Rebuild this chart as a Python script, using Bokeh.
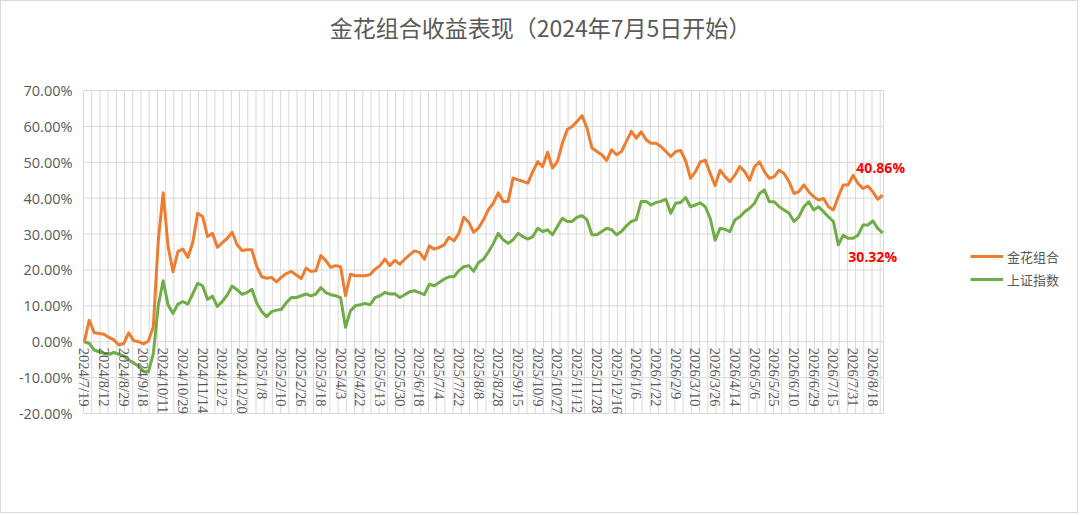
import math
from bokeh.plotting import figure
from bokeh.models import (ColumnDataSource, FixedTicker, PrintfTickFormatter, Label,
                          LabelSet, Legend, LegendItem, Range1d)
from bokeh.embed import file_html
from bokeh.resources import INLINE

# ---------------- data ----------------
title_text = "金花组合收益表现（2024年7月5日开始）"
series_names = ["金花组合", "上证指数"]

tick_labels = [
    "2024/7/19", "2024/8/12", "2024/8/29", "2024/9/18", "2024/10/11", "2024/10/29",
    "2024/11/14", "2024/12/2", "2024/12/20", "2025/1/8", "2025/2/10", "2025/2/26",
    "2025/3/18", "2025/4/3", "2025/4/22", "2025/5/13", "2025/5/30", "2025/6/18",
    "2025/7/4", "2025/7/22", "2025/8/8", "2025/8/28", "2025/9/15", "2025/10/9",
    "2025/10/27", "2025/11/12", "2025/11/28", "2025/12/16", "2026/1/6", "2026/1/22",
    "2026/2/9", "2026/3/10", "2026/3/26", "2026/4/14", "2026/5/6", "2026/5/25",
    "2026/6/10", "2026/6/29", "2026/7/15", "2026/7/31", "2026/8/18",
]

# cumulative return (%) sampled every 3rd trading day
jinhua = [
    0.0, 6.0, 2.5, 2.3, 2.1, 1.2, 0.5, -0.9, -0.5, 2.5,
    0.3, 0.0, -0.6, 0.2, 4.2, 28.0, 41.5, 26.5, 19.5, 25.2,
    25.8, 23.5, 27.6, 35.8, 34.9, 29.3, 30.2, 26.3, 27.6, 28.8,
    30.5, 27.0, 25.4, 25.6, 25.6, 20.9, 18.1, 17.7, 17.9, 16.7,
    18.0, 19.0, 19.6, 18.6, 17.6, 20.5, 19.6, 19.8, 24.0, 22.6,
    20.7, 21.2, 20.9, 12.8, 18.8, 18.4, 18.4, 18.4, 18.7, 20.2,
    21.2, 23.0, 21.2, 22.7, 21.6, 23.0, 24.2, 25.3, 24.9, 23.0,
    26.7, 25.8, 26.3, 27.0, 29.1, 28.1, 30.2, 34.7, 33.3, 30.5,
    31.7, 34.0, 36.8, 38.6, 41.5, 39.1, 39.1, 45.6, 45.1, 44.7,
    44.2, 47.4, 50.2, 48.8, 52.8, 48.4, 50.2, 55.3, 59.1, 60.0,
    61.4, 63.0, 59.5, 54.0, 53.0, 52.1, 50.5, 53.5, 52.1, 53.0,
    55.8, 58.6, 56.7, 58.5, 56.3, 55.3, 55.3, 54.4, 53.0, 51.6,
    53.0, 53.3, 50.5, 45.5, 47.4, 50.1, 50.6, 46.9, 43.5, 47.8,
    46.0, 44.6, 46.4, 48.8, 47.4, 45.0, 48.8, 50.1, 47.4, 45.5,
    46.0, 47.8, 46.9, 44.6, 41.3, 41.8, 43.7, 41.8, 40.4, 39.5,
    39.9, 37.6, 36.7, 40.4, 43.7, 43.7, 46.4, 44.1, 42.7, 43.4,
    41.8, 39.7, 40.86,
]

shangzheng = [
    0.0, -0.5, -2.3, -2.8, -3.2, -3.5, -3.0, -3.5, -4.0, -5.1,
    -5.9, -6.8, -8.2, -8.4, -3.3, 10.0, 17.0, 10.2, 7.9, 10.5,
    11.2, 10.5, 13.3, 16.3, 15.6, 11.8, 12.7, 9.8, 11.2, 13.0,
    15.5, 14.5, 13.2, 13.7, 14.6, 10.7, 8.4, 7.0, 8.4, 8.8,
    9.0, 10.9, 12.3, 12.3, 12.8, 13.3, 12.8, 13.3, 15.1, 13.7,
    13.1, 12.8, 12.3, 4.0, 8.6, 10.0, 10.3, 10.7, 10.3, 12.3,
    12.8, 13.7, 13.3, 13.4, 12.3, 13.1, 13.9, 14.2, 13.7, 13.1,
    16.0, 15.6, 16.5, 17.4, 18.1, 18.1, 19.8, 20.9, 21.2, 19.6,
    22.1, 23.0, 25.0, 27.4, 30.2, 28.4, 27.4, 28.4, 30.2, 29.3,
    28.6, 29.3, 31.6, 30.7, 31.2, 29.8, 32.1, 34.4, 33.5, 33.5,
    34.7, 35.1, 34.0, 29.8, 29.8, 30.7, 31.6, 31.2, 29.8, 30.7,
    32.3, 33.5, 34.0, 39.1, 39.1, 38.1, 38.8, 39.1, 39.7, 35.8,
    38.6, 38.8, 40.2, 37.6, 38.1, 38.7, 37.6, 34.4, 28.3, 31.6,
    31.3, 30.7, 33.9, 34.8, 36.2, 37.2, 38.6, 41.3, 42.3, 39.0,
    39.0, 37.6, 36.7, 35.8, 33.5, 34.8, 37.6, 39.0, 36.7, 37.6,
    36.2, 34.8, 33.5, 27.0, 29.7, 28.8, 28.8, 29.7, 32.5, 32.5,
    33.7, 31.6, 30.32,
]

y_ticks = [-20, -10, 0, 10, 20, 30, 40, 50, 60, 70]

n_days = 487          # number of trading-day categories
sample_step = 3       # values above are every 3rd day
label_every = 12      # a date label every 12 categories
grid_every = 5        # a vertical gridline every 5 categories

assert len(jinhua) == len(shangzheng)
day = [i * sample_step for i in range(len(jinhua))]
label_pos = [i * label_every for i in range(len(tick_labels))]

# ---------------- layout (pixels) ----------------
ORANGE = "#ED7D31"
GREEN = "#70AD47"
GRID = "#d9d9d9"
TXT = "#595959"
CJK = "Noto Sans CJK SC"
LAT = "Open Sans"

W, H = 1078, 513              # + 1px css border each side
LEFT = 75                     # y-axis panel width
AREA_L, AREA_R = 82, 882      # plot-area edges (canvas px)
AREA_T, AREA_B = 89, 412      # plot-area top (70%) / bottom (-20%)

frame_w = W - LEFT
cat_px = (AREA_R - AREA_L) / n_days
x0 = -0.5 - (AREA_L - LEFT) / cat_px
x1 = x0 + frame_w / cat_px
unit_px = (AREA_B - AREA_T) / (y_ticks[-1] - y_ticks[0])
y1 = y_ticks[-1] + AREA_T / unit_px
y0 = y_ticks[0] - (H - AREA_B) / unit_px

p = figure(width=W, height=H, output_backend="svg", toolbar_location=None,
           x_range=Range1d(x0, x1), y_range=Range1d(y0, y1),
           min_border_left=LEFT, min_border_right=0, min_border_top=0, min_border_bottom=0)
p.styles = {"border": "1px solid #d9d9d9"}
p.background_fill_color = "white"
p.border_fill_color = "white"
p.outline_line_color = None
p.xaxis.visible = False
p.xgrid.visible = False
p.ygrid.visible = False

yax = p.yaxis[0]
yax.ticker = FixedTicker(ticks=y_ticks)
yax.formatter = PrintfTickFormatter(format="%.2f%%")
yax.axis_line_color = None
yax.major_tick_line_color = None
yax.minor_tick_line_color = None
yax.major_tick_in = 0
yax.major_tick_out = 0
yax.major_label_standoff = 4
yax.major_label_text_font = LAT
yax.major_label_text_font_size = "14.5px"
yax.major_label_text_color = TXT

# gridlines limited to the plot area
xa, xb = -0.5, n_days - 0.5
vgrid = [xa + grid_every * j for j in range(n_days // grid_every + 1)] + [xb]
p.segment(x0=[xa] * len(y_ticks), x1=[xb] * len(y_ticks), y0=y_ticks, y1=y_ticks,
          line_color=GRID, line_width=1)
p.segment(x0=vgrid, x1=vgrid, y0=[y_ticks[0]] * len(vgrid), y1=[y_ticks[-1]] * len(vgrid),
          line_color=GRID, line_width=1)

r1 = p.line(day, jinhua, line_color=ORANGE, line_width=3, line_join="round")
r2 = p.line(day, shangzheng, line_color=GREEN, line_width=3, line_join="round")

# category labels sitting just under the 0% line, rotated
lab_src = ColumnDataSource(dict(x=label_pos, y=[0] * len(label_pos), text=tick_labels))
p.add_layout(LabelSet(x="x", y="y", text="text", source=lab_src, angle=-math.pi / 2,
                      text_align="left", text_baseline="middle", y_offset=-6,
                      text_font=LAT, text_font_size="14.5px", text_color=TXT))

# end value labels
p.add_layout(Label(x=day[-1], y=jinhua[-1], text=f"{jinhua[-1]:.2f}%", y_offset=28,
                   x_offset=-2, text_align="center", text_baseline="middle",
                   text_color="#FF0000", text_font=LAT, text_font_style="bold",
                   text_font_size="14px"))
p.add_layout(Label(x=day[-1], y=shangzheng[-1], text=f"{shangzheng[-1]:.2f}%", y_offset=-24,
                   x_offset=-10, text_align="center", text_baseline="middle",
                   text_color="#FF0000", text_font=LAT, text_font_style="bold",
                   text_font_size="14px"))

# title (screen units, relative to the frame's bottom-left)
p.add_layout(Label(x=539 - LEFT, y=H - 25, x_units="screen", y_units="screen",
                   text=title_text, text_align="center", text_baseline="middle",
                   text_font=CJK, text_font_size="23px", text_color=TXT))

legend_top, legend_left, legend_h = 245, 969, 43
legend = Legend(items=[LegendItem(label=series_names[0], renderers=[r1]),
                       LegendItem(label=series_names[1], renderers=[r2])],
                location=(legend_left - LEFT, H - legend_top - legend_h),
                orientation="vertical",
                glyph_width=33, glyph_height=20, label_height=20, label_standoff=4,
                spacing=3, padding=0, margin=0, border_line_color=None,
                background_fill_alpha=0, label_text_font=CJK,
                label_text_font_size="13px", label_text_color=TXT)
p.add_layout(legend)

open("out.html", "w").write(file_html(p, INLINE))
